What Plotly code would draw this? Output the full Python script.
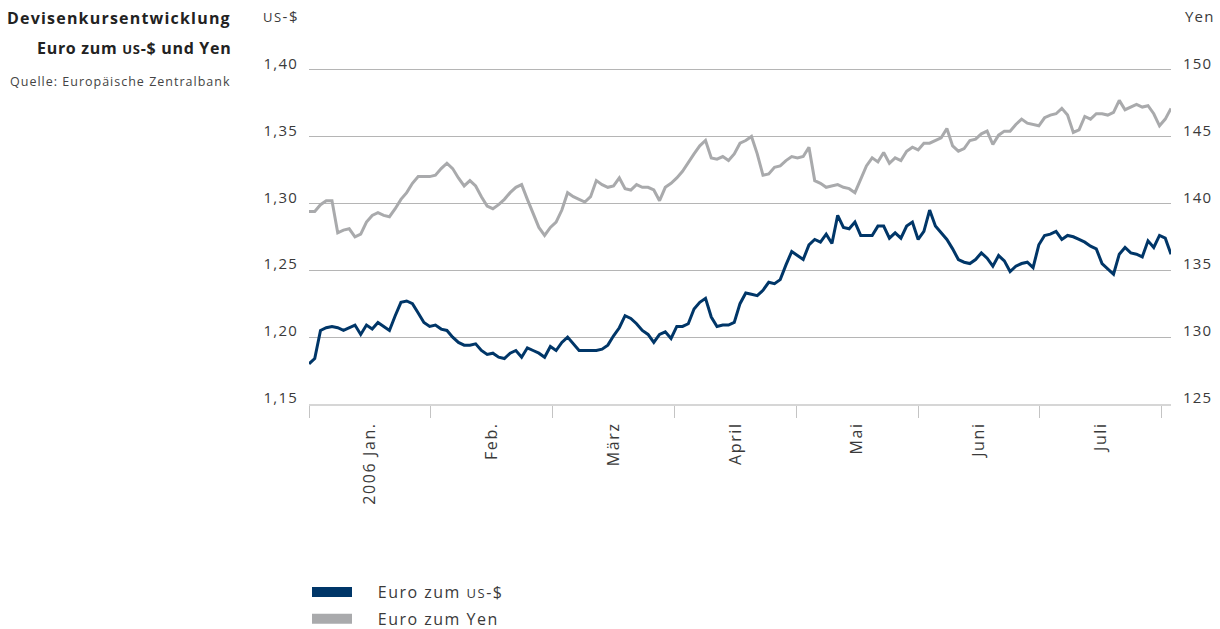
import plotly.graph_objects as go

# ---------------- data ----------------
months = ["2006 Jan.", "Feb.", "März", "April", "Mai", "Juni", "Juli"]

usd = [1.180, 1.184, 1.205, 1.207, 1.208, 1.207, 1.205, 1.207, 1.209, 1.202,
       1.209, 1.206, 1.211, 1.208, 1.205, 1.216, 1.226, 1.227, 1.225, 1.218,
       1.211, 1.208, 1.209, 1.206, 1.205, 1.200, 1.196, 1.194, 1.194, 1.195,
       1.190, 1.187, 1.188, 1.185, 1.184, 1.188, 1.190, 1.185, 1.192, 1.190,
       1.188, 1.185, 1.193, 1.190, 1.196, 1.200, 1.195, 1.190, 1.190, 1.190,
       1.190, 1.191, 1.194, 1.201, 1.207, 1.216, 1.214, 1.210, 1.205, 1.202,
       1.196, 1.202, 1.204, 1.199, 1.208, 1.208, 1.210, 1.221, 1.226, 1.229,
       1.215, 1.208, 1.209, 1.209, 1.211, 1.225, 1.233, 1.232, 1.231, 1.235,
       1.241, 1.240, 1.243, 1.254, 1.264, 1.261, 1.258, 1.269, 1.273, 1.271,
       1.277, 1.270, 1.291, 1.282, 1.281, 1.286, 1.276, 1.276, 1.276, 1.283,
       1.283, 1.274, 1.278, 1.274, 1.283, 1.286, 1.273, 1.279, 1.295, 1.283,
       1.278, 1.273, 1.266, 1.258, 1.256, 1.255, 1.258, 1.263, 1.259, 1.253,
       1.261, 1.257, 1.249, 1.253, 1.255, 1.256, 1.252, 1.269, 1.276, 1.277,
       1.279, 1.273, 1.276, 1.275, 1.273, 1.271, 1.268, 1.266, 1.255, 1.251,
       1.247, 1.262, 1.267, 1.263, 1.262, 1.260, 1.272, 1.267, 1.276, 1.274,
       1.262]

yen = [139.4, 139.4, 139.9, 140.2, 140.2, 137.8, 138.0, 138.1, 137.5, 137.7,
       138.6, 139.1, 139.3, 139.1, 139.0, 139.6, 140.3, 140.8, 141.5, 142.0,
       142.0, 142.0, 142.1, 142.6, 143.0, 142.6, 141.9, 141.3, 141.7, 141.3,
       140.5, 139.8, 139.6, 139.9, 140.3, 140.8, 141.2, 141.4, 140.3, 139.3,
       138.2, 137.6, 138.2, 138.6, 139.5, 140.8, 140.5, 140.3, 140.1, 140.5,
       141.7, 141.4, 141.2, 141.3, 141.9, 141.1, 141.0, 141.4, 141.2, 141.2,
       141.0, 140.2, 141.2, 141.5, 141.9, 142.4, 143.1, 143.7, 144.3, 144.7,
       143.4, 143.3, 143.5, 143.2, 143.7, 144.5, 144.7, 145.0, 143.7, 142.1,
       142.2, 142.7, 142.8, 143.2, 143.5, 143.4, 143.5, 144.2, 141.7, 141.5,
       141.2, 141.3, 141.4, 141.2, 141.1, 140.8, 141.8, 142.8, 143.4, 143.1,
       143.8, 143.0, 143.4, 143.2, 143.9, 144.2, 144.0, 144.5, 144.5, 144.7,
       144.9, 145.6, 144.3, 143.9, 144.1, 144.7, 144.8, 145.2, 145.4, 144.4,
       145.1, 145.4, 145.4, 145.9, 146.3, 146.0, 145.9, 145.8, 146.4, 146.6,
       146.7, 147.1, 146.6, 145.3, 145.5, 146.5, 146.3, 146.7, 146.7, 146.6,
       146.8, 147.7, 147.0, 147.2, 147.4, 147.2, 147.3, 146.7, 145.8, 146.3,
       147.1]

usd_ticks = [1.15, 1.20, 1.25, 1.30, 1.35, 1.40]
yen_ticks = [125, 130, 135, 140, 145, 150]

# ---------------- style / layout constants ----------------
BLUE = "#003668"
GRAY = "#a9aaac"
GRID = "#b5b5b5"
TXT = "#3a3a3a"
FONT = "Open Sans"

W, H = 1220, 629
L, R, T, B = 309, 49, 68, 225
PW, PH = W - L - R, H - T - B
MONTH_SPAN = 21.2      # trading-day units per month on the x scale
X_MAX = 150
TOP_PAD = 0.0012       # keeps the top gridline just inside the plot area


def px_x(px):
    return (px - L) / PW


def px_y(py):
    return (H - B - py) / PH


def sp(text, ls):
    return f"<span style='letter-spacing:{ls}px'>{text}</span>"


SC = "<span style='font-size:13px'>US</span>"   # small-caps look for "US"

days_usd = list(range(len(usd)))
days_yen = list(range(len(yen)))
bounds = [k * MONTH_SPAN for k in range(len(months) + 1)]
mids = [(k + 0.5) * MONTH_SPAN for k in range(len(months))]

fig = go.Figure()
fig.add_trace(go.Scatter(x=days_yen, y=yen, yaxis="y2", mode="lines",
                         line=dict(color=GRAY, width=3), showlegend=False,
                         hoverinfo="skip"))
fig.add_trace(go.Scatter(x=days_usd, y=usd, mode="lines",
                         line=dict(color=BLUE, width=3), showlegend=False,
                         hoverinfo="skip"))
# legend entries
NB = "\u00a0" * 5
fig.add_trace(go.Scatter(x=[None], y=[None], mode="lines",
                         line=dict(color=BLUE, width=12),
                         name=NB + sp(f"Euro zum {SC}-$", 1.5),
                         legendgroup="usd"))
fig.add_trace(go.Scatter(x=[None], y=[None], mode="lines",
                         line=dict(color=GRAY, width=12),
                         name=NB + sp("Euro zum Yen", 1.5), legendgroup="yen"))

usd_span = usd_ticks[-1] - usd_ticks[0]
yen_span = yen_ticks[-1] - yen_ticks[0]

fig.update_layout(
    width=W, height=H,
    margin=dict(l=L, r=R, t=T, b=B, pad=0, autoexpand=False),
    paper_bgcolor="white", plot_bgcolor="white",
    separators=",.",
    font=dict(family=FONT, size=15, color=TXT),
    xaxis=dict(
        range=[0, X_MAX], tickmode="array", tickvals=mids,
        ticktext=[sp(m, 1.6) for m in months],
        ticks="", tickangle=-90, ticklabelstandoff=10,
        tickfont=dict(size=16, color=TXT),
        showgrid=False, zeroline=False,
        showline=True, linecolor="#d6d6d6", linewidth=2,
        minor=dict(tickmode="array", tickvals=bounds, ticks="outside",
                   ticklen=12, tickwidth=1, tickcolor="#c4c4c4",
                   showgrid=False),
    ),
    yaxis=dict(
        range=[usd_ticks[0], usd_ticks[-1] + TOP_PAD],
        tickmode="array", tickvals=usd_ticks,
        ticktext=[sp(f"{v:.2f}".replace(".", ","), 1.2) for v in usd_ticks],
        ticks="", showgrid=True, gridcolor=GRID,
        gridwidth=1, zeroline=False, showline=False,
        ticklabelstandoff=10, ticklabelshift=-6,
        tickfont=dict(size=15, color=TXT),
    ),
    yaxis2=dict(
        range=[yen_ticks[0], yen_ticks[-1] + TOP_PAD * yen_span / usd_span],
        tickmode="array", tickvals=yen_ticks,
        ticktext=[sp(str(v), 1.2) for v in yen_ticks],
        overlaying="y", side="right", ticks="", showgrid=False,
        zeroline=False, showline=False,
        ticklabelstandoff=11, ticklabelshift=-6,
        tickfont=dict(size=15, color=TXT),
    ),
    legend=dict(
        x=px_x(307), xanchor="left", y=px_y(575), yanchor="top",
        orientation="v", font=dict(size=16, color=TXT),
        itemwidth=40, tracegroupgap=3, bgcolor="rgba(0,0,0,0)",
    ),
    showlegend=True,
    annotations=[
        dict(text=sp("<b>Devisenkursentwicklung</b>", 1.2), x=px_x(233), y=px_y(18),
             xref="paper", yref="paper", xanchor="right", yanchor="middle",
             showarrow=False, font=dict(size=16, color="#222")),
        dict(text=sp(f"<b>Euro zum {SC}-$ und Yen</b>", 0.7),
             x=px_x(233), y=px_y(48),
             xref="paper", yref="paper", xanchor="right", yanchor="middle",
             showarrow=False, font=dict(size=16, color="#222")),
        dict(text=sp("Quelle: Europäische Zentralbank", 1.0), x=px_x(232), y=px_y(82),
             xref="paper", yref="paper", xanchor="right", yanchor="middle",
             showarrow=False, font=dict(size=12.5, color="#444")),
        dict(text=sp(f"{SC}-$", 1.5), x=px_x(261), y=px_y(16),
             xref="paper", yref="paper", xanchor="left", yanchor="middle",
             showarrow=False, font=dict(size=15, color=TXT)),
        dict(text=sp("Yen", 1.2), x=px_x(1183), y=px_y(16),
             xref="paper", yref="paper", xanchor="left", yanchor="middle",
             showarrow=False, font=dict(size=15, color=TXT)),
    ],
)

fig.write_html("out.html")
